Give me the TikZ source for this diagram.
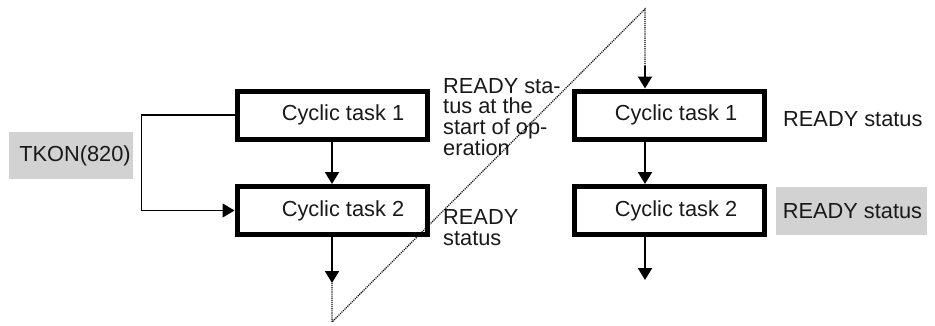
\documentclass[tikz,border=0pt]{standalone}
\usepackage{fontspec}
\setmainfont{Liberation Sans}
\usetikzlibrary{arrows.meta}
\begin{document}
\begin{tikzpicture}[x=1pt,y=-1pt,
  every node/.style={font=\fontsize{21.8}{20.6}\selectfont, text=black!90},
  taskbox/.style={draw=black, line width=5pt, minimum width=190pt, minimum height=48pt, inner sep=0pt, fill=white},
  greybox/.style={fill=gray!35, inner sep=0pt},
  tip/.style={-{Triangle[width=14pt,length=12pt]}},
  flow/.style={line width=2pt, tip},
  link/.style={line width=1.2pt, tip},
  dots/.style={line width=1.1pt, densely dotted}]
\useasboundingbox (0,0) rectangle (935,325);

% boxes
\node[taskbox] (L1) at (332,115) {\hspace*{22pt}Cyclic task 1};
\node[taskbox] (L2) at (332,210.5) {\hspace*{22pt}Cyclic task 2};
\node[taskbox] (R1) at (669.5,115) {\hspace*{13pt}Cyclic task 1};
\node[taskbox] (R2) at (669.5,210.5) {\hspace*{13pt}Cyclic task 2};

\node[greybox, minimum width=124pt, minimum height=47pt] (tkon) at (71,155.5) {\hspace*{8pt}TKON(820)};
\node[greybox, minimum width=151pt, minimum height=48pt] (rdy2) at (851.5,211) {\hspace*{2pt}READY status};
\node[anchor=base west, inner sep=0pt] (rdy1) at (783,126) {READY status};

\node[anchor=north west, align=left, inner sep=0pt] (st1) at (443,78) {READY sta-\\tus at the\\start of op-\\eration};
\node[anchor=north west, align=left, inner sep=0pt] (st2) at (443,209.5) {READY\\status};

% coordinates
\coordinate (bot) at (332,322);
\coordinate (top) at (645,9);
\coordinate (lend) at (332,283);
\coordinate (rin) at (645,66);
\coordinate (rend) at (645,280);

% connectors
\draw[flow] (L1.south) -- (L2.north);
\draw[flow] (L2.south) -- (lend);
\draw[link] (L1.west) -- ++(-93,0) |- (L2.west);
\draw[dots] (lend) -- (bot) -- (top) -- (rin);
\draw[flow] (rin) -- (R1.north -| rin);
\draw[flow] (R1.south -| rin) -- (R2.north -| rin);
\draw[flow] (R2.south -| rin) -- (rend);
\end{tikzpicture}
\end{document}
